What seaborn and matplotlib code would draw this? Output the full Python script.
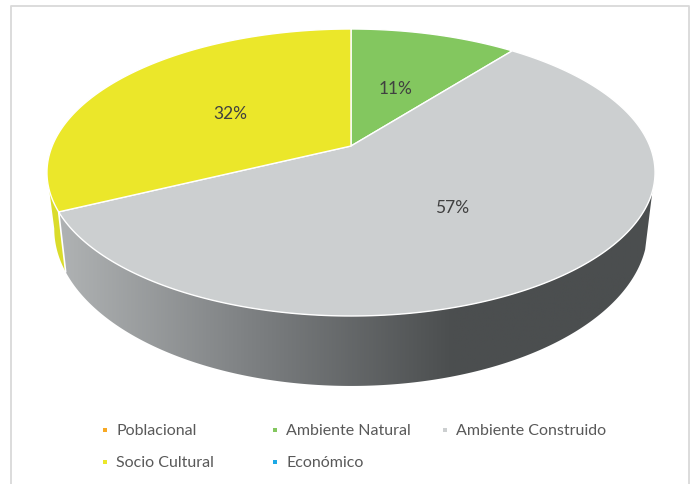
import numpy as np
import matplotlib
matplotlib.use("Agg")
import matplotlib.pyplot as plt
from matplotlib.patches import Polygon
import seaborn as sns

# Values (labels show them rounded)
categories = ["Poblacional", "Ambiente Natural", "Ambiente Construido", "Socio Cultural", "Económico"]
values = [0, 10.6, 57.2, 32.2, 0]
colors = ["#F7A823", "#83C75F", "#CCCFD0", "#EBE72A", "#1CA9E6"]
side_yellow = "#DADC2B"

sns.set_theme(style="white")
plt.rcParams["font.family"] = ["Lato", "DejaVu Sans"]


def to_top(theta, r=1.0):
    # pie angle (clockwise from 12 o'clock, degrees) -> pixel, tilted pie with perspective
    t = np.radians(theta)
    u, v = r * np.sin(t), r * np.cos(t)
    w = 1 + 0.1847 * v
    return 351 + 298.8 * u / w, 147 - 138.6 * v / w


def to_bottom(theta):
    x, y = to_top(theta)
    return 351 + (x - 351) * 0.976, 200.8 + (y - 147) * 1.095


fig, ax = plt.subplots(figsize=(6.93, 4.85), dpi=100)
fig.subplots_adjust(0, 0, 1, 1)

# chart frame, runs off the bottom of the image
ax.plot([10.5, 10.5, 688.5, 688.5], [490, 6.5, 6.5, 490], color="#D9D9D9", lw=1.3)

# side wall: grey part is a left-to-right gradient clipped to the wall outline
edges = np.cumsum(values) * 360 / sum(values)
shades = sns.blend_palette(["#B2B5B6", "#7D8082", "#4B4E4F", "#4B4E4F"], 256, as_cmap=True)
th = np.linspace(108, edges[2], 300)
wall = np.r_[np.c_[to_top(th)], np.c_[to_bottom(th)][::-1]]
clip = Polygon(wall, fc="none", ec="none", transform=ax.transData)
ax.add_patch(clip)
img = ax.imshow(np.linspace(0, 1, 256)[None, :], cmap=shades, extent=(50, 655, 400, 150), aspect="auto")
img.set_clip_path(clip)

# the yellow slice only shows a sliver of wall, up to the leftmost point of the rim
th = np.linspace(edges[2], 259.4, 60)
ax.add_patch(Polygon(np.r_[np.c_[to_top(th)], np.c_[to_bottom(th)][::-1]], fc=side_yellow, ec="none"))

# white gap between the yellow and grey walls
ax.plot(*zip(to_top(edges[2]), to_bottom(edges[2])), color="white", lw=1.2)

# top face
start = 0
for name, val, col in zip(categories, values, colors):
    if val == 0:
        continue
    end = start + val * 360 / sum(values)
    th = np.linspace(start, end, 200)
    x, y = to_top(th)
    ax.add_patch(Polygon(np.r_[[to_top(0, 0)], np.c_[x, y]], fc=col, ec="white", lw=1.0, joinstyle="round"))
    lx, ly = to_top((start + end) / 2, 0.5)
    ax.text(lx, ly + 2.5, f"{val:.0f}%", ha="center", va="center", fontsize=12.5, color="#404040")
    start = end

# legend, laid out by hand in rows like the original
legend_x = [105, 275, 445, 105, 275]
legend_y = [431, 431, 431, 463, 463]
for name, col, lx, ly in zip(categories, colors, legend_x, legend_y):
    ax.scatter([lx], [ly - 0.5], marker="s", s=12, color=col, linewidths=0)
    ax.text(lx + 11, ly, name, ha="left", va="center", fontsize=11.5, color="#595959")

ax.set_xlim(0, 693)
ax.set_ylim(485, 0)
ax.axis("off")

fig.savefig("out.png", dpi=100)
